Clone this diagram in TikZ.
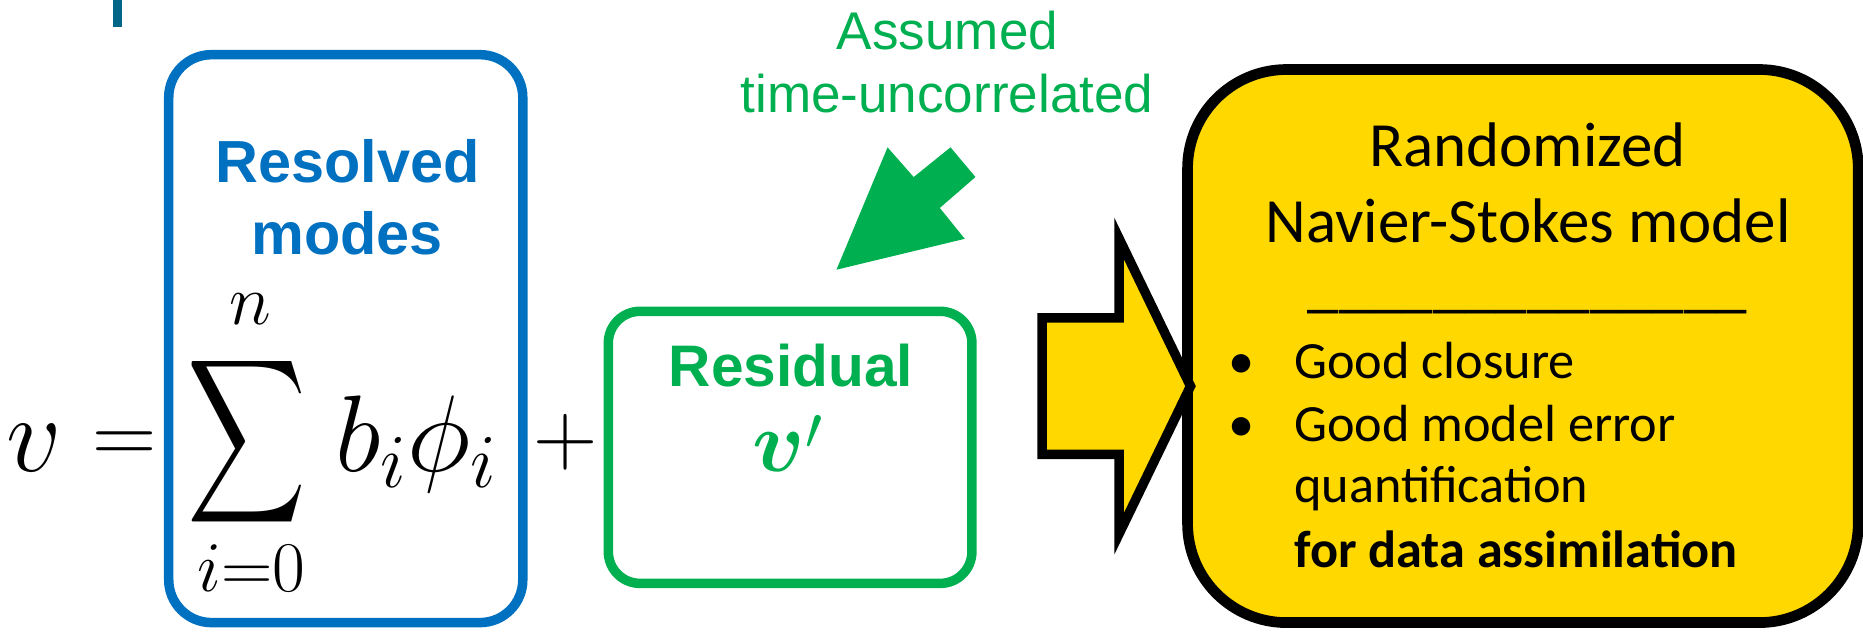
\documentclass[tikz,border=0pt]{standalone}
\usepackage{fix-cm}
\usepackage{amsmath}
\usepackage{fontspec}
\usepackage{graphicx}
\newfontfamily\lsans{Liberation Sans}
\newfontfamily\calib{Carlito}
\definecolor{myblue}{RGB}{0,112,192}
\definecolor{mygreen}{RGB}{0,176,80}
\definecolor{mygold}{RGB}{255,216,0}
\definecolor{myteal}{RGB}{0,102,136}
\begin{document}
\begin{tikzpicture}[x=0.6pt,y=-0.6pt,
  bluebox/.style={draw=myblue, line width=4.8pt, rounded corners=21.6pt, inner sep=0pt},
  greenbox/.style={draw=mygreen, line width=4.8pt, rounded corners=16pt, inner sep=0pt},
  goldbox/.style={draw=black, fill=mygold, line width=5.4pt, rounded corners=50pt, inner sep=0pt},
  eqbig/.style={inner sep=0pt, anchor=base, font=\fontsize{55}{64}\selectfont},
  eqop/.style={inner sep=0pt, anchor=base, font=\fontsize{45}{54}\selectfont},
  eqlim/.style={inner sep=0pt, anchor=base, font=\fontsize{36}{43}\selectfont},
  boldlabel/.style={inner sep=0pt, anchor=base, font=\lsans\bfseries\fontsize{30}{36}\selectfont},
  notelabel/.style={inner sep=0pt, anchor=base, text=mygreen, font=\lsans\fontsize{26.8}{32}\selectfont},
  titletext/.style={inner sep=0pt, anchor=base, font=\calib\fontsize{31.8}{38}\selectfont},
  itemtext/.style={inner sep=0pt, anchor=base west, font=\calib\fontsize{26.4}{32}\selectfont},
  bullettext/.style={inner sep=0pt, anchor=base, font=\calib\fontsize{26.4}{32}\selectfont}
]
\useasboundingbox (0,0) rectangle (1568,533);

% teal bar at top left
\fill[myteal] (95,0) rectangle (102.4,22.7);

% boxes
\node[bluebox, minimum width=178.8pt, minimum height=286.8pt] (blue) at (291,285) {};
\node[greenbox, minimum width=183.6pt, minimum height=137.4pt] (green) at (665,376.5) {};
\node[goldbox, minimum width=338.7pt, minimum height=279.3pt] (gold) at (1281.75,291.25) {};

% green block arrow
\fill[mygreen] (704,227) -- (747,124) -- (769,149) -- (800,124) -- (821,149) -- (791,175) -- (812,201) -- cycle;

% yellow block arrow
\draw[fill=mygold, line width=4.8pt, line join=miter]
  (877,267.5) -- (942,267.5) -- (942,201) -- (1002,325) -- (942,449) -- (942,382.5) -- (877,382.5) -- cycle;

% blue box text
\node[boldlabel, text=myblue] (res1) at (292.5,154) {Resolved};
\node[boldlabel, text=myblue] (res2) at (292,214) {modes};

% equation
\node[eqbig] (v) at (29,396.5) {$v$};
\node[eqop] (eq) at (105,390) {$=$};
\node[inner sep=0pt] (sum) at (207.7,371.8) {\resizebox*{60pt}{92.6pt}{$\displaystyle\sum$}};
\node[eqlim] (up) at (211,273) {$n$};
\node[eqlim] (low) at (211.5,498) {$i{=}0$};
\node[eqbig, anchor=base west] (bphi) at (282,396.5) {$b_i\phi_i$};
\node[eqop] (plus) at (476,391) {$+$};

% residual
\node[boldlabel, text=mygreen, font=\lsans\bfseries\fontsize{29.6}{36}\selectfont] (resid) at (665.6,325.2) {Residual};
\node[inner sep=0pt, anchor=base, text=mygreen, font=\fontsize{44}{52}\selectfont] (vp) at (663,397) {$\boldsymbol{v}\raisebox{-4.8pt}{$'$}$};

% note
\node[notelabel] (n1) at (797.5,41.7) {Assumed};
\node[notelabel] (n2) at (797,94.4) {time-uncorrelated};

% gold box text
\node[titletext] (t1) at (1285.5,140) {Randomized};
\node[titletext] (t2) at (1286,204) {Navier-Stokes model};
\node[titletext] (t3) at (1285.5,257) {\_\_\_\_\_\_\_\_\_\_\_\_\_\_};
\node[bullettext] (b1) at (1045,318.5) {\textbullet};
\node[itemtext] (i1) at (1089,318.5) {Good closure};
\node[bullettext] (b2) at (1045,372) {\textbullet};
\node[itemtext] (i2) at (1089,372) {Good model error};
\node[itemtext] (i3) at (1089,423) {quantification};
\node[itemtext, font=\calib\bfseries\fontsize{26.4}{32}\selectfont] (i4) at (1089,478) {for data assimilation};
\end{tikzpicture}
\end{document}
